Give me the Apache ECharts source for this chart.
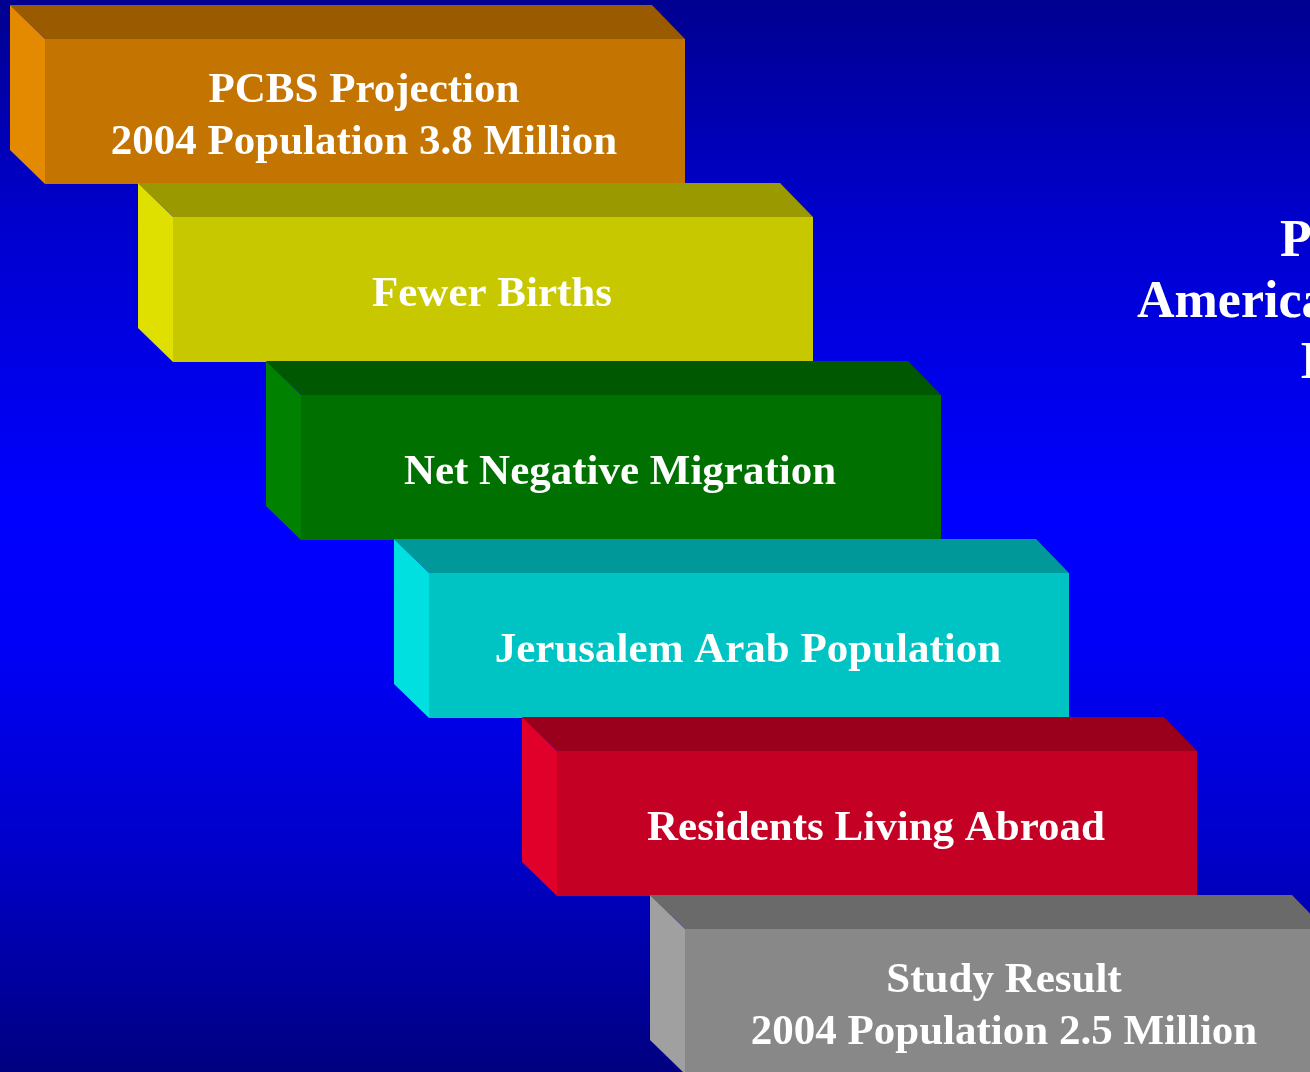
<!DOCTYPE html>
<html>
<head>
<meta charset="utf-8">
<script src="https://cdn.jsdelivr.net/npm/echarts@6/dist/echarts.min.js"></script>
<style>
html,body{margin:0;padding:0;overflow:hidden;}
#chart{width:1310px;height:1072px;}
</style>
</head>
<body>
<div id="chart"></div>
<script>
// ---- data ----
const stepLabels = [
  'PCBS Projection\n2004 Population 3.8 Million',
  'Fewer Births',
  'Net Negative Migration',
  'Jerusalem Arab Population',
  'Residents Living Abroad',
  'Study Result\n2004 Population 2.5 Million'
];
const stepIndex = [0, 1, 2, 3, 4, 5];
const blockSpan = 5; // each block spans 5 steps horizontally
const sideTextLines = ['Presented to the', 'American Enterprise', 'Institute'];

// ---- styles ----
const frontColors = ['#c47400', '#c8c800', '#007000', '#00c4c4', '#c40024', '#888888'];
const topColors   = ['#9a5a00', '#9a9a00', '#005800', '#009898', '#9a001c', '#6a6a6a'];
const sideColors  = ['#e38a00', '#e0e000', '#008200', '#00e0e0', '#e0002a', '#a0a0a0'];
const DX = 35, DY = 34;
const FONT = '"Liberation Serif", "Times New Roman", serif';

const chart = echarts.init(document.getElementById('chart'));

function renderItem(params, api) {
  const i = api.value(0);
  const j = api.value(1);
  const tl = api.coord([i, j]);
  const br = api.coord([i + blockSpan, j + 1]);
  const x0 = tl[0], y0 = tl[1], x1 = br[0], y1 = br[1] - DY + 1;
  const idx = params.dataIndex;
  return {
    type: 'group',
    children: [
      { type: 'polygon', shape: { points: [[x0 - DX, y0 - DY], [x1 - DX + 2, y0 - DY], [x1, y0], [x0, y0]] },
        style: { fill: topColors[idx] } },
      { type: 'polygon', shape: { points: [[x0 - DX, y0 - DY], [x0, y0], [x0, y1], [x0 - DX, y1 - DY]] },
        style: { fill: sideColors[idx] } },
      { type: 'rect', shape: { x: x0, y: y0, width: x1 - x0, height: y1 - y0 },
        style: { fill: frontColors[idx] } },
      { type: 'text', style: {
          x: (x0 + x1) / 2 - 1, y: (y0 + y1) / 2 + 5,
          text: stepLabels[idx],
          fill: '#ffffff', font: 'bold 43px ' + FONT,
          align: 'center', verticalAlign: 'middle', lineHeight: 52
        } }
    ]
  };
}

const option = {
  animation: false,
  backgroundColor: {
    type: 'linear', x: 0, y: 0, x2: 0, y2: 1,
    colorStops: [
      { offset: 0, color: '#000090' },
      { offset: 0.2, color: '#0000cc' },
      { offset: 0.47, color: '#0000ff' },
      { offset: 0.6, color: '#0000f8' },
      { offset: 0.8, color: '#0000c8' },
      { offset: 1, color: '#000080' }
    ]
  },
  grid: { left: 45, top: 39, right: 0, bottom: 0 },
  xAxis: { type: 'value', min: 0, max: 1265 / 128, show: false },
  yAxis: { type: 'value', min: 0, max: 1033 / 178, inverse: true, show: false },
  graphic: [
    { type: 'text', left: 1280, top: 217, style: { text: sideTextLines[0], fill: '#fff', font: 'bold 52px ' + FONT } },
    { type: 'text', left: 1137, top: 278, style: { text: sideTextLines[1], fill: '#fff', font: 'bold 52px ' + FONT } },
    { type: 'text', left: 1300, top: 339, style: { text: sideTextLines[2], fill: '#fff', font: 'bold 52px ' + FONT } }
  ],
  series: [{
    type: 'custom',
    renderItem: renderItem,
    clip: false,
    data: stepIndex.map(s => [s, s])
  }]
};
chart.setOption(option);
</script>
</body>
</html>
